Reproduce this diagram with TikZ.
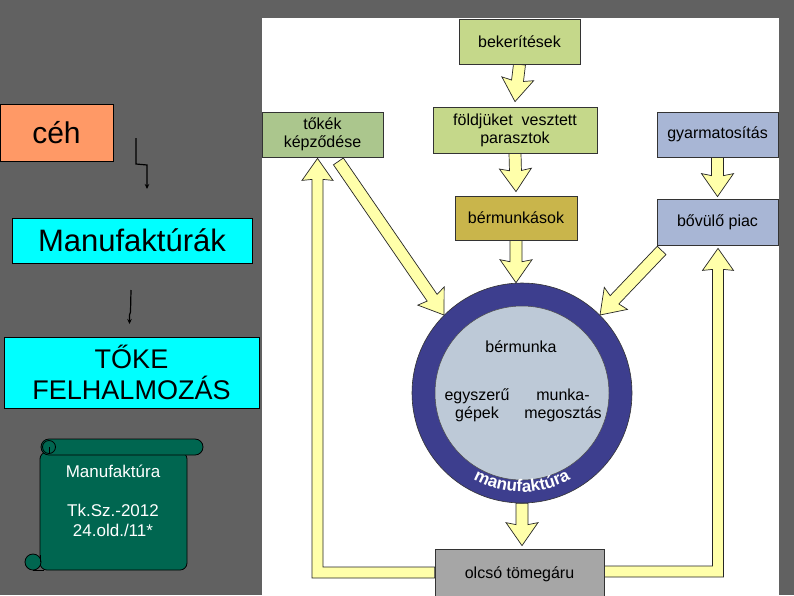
\documentclass[tikz,border=0pt]{standalone}
\usepackage{fontspec}
\setmainfont{Liberation Sans}
\usetikzlibrary{calc,decorations.text,arrows.meta}
\definecolor{bgc}{HTML}{616161}
\definecolor{cehc}{HTML}{FF9966}
\definecolor{cyanc}{HTML}{00FFFF}
\definecolor{scrollc}{HTML}{006650}
\definecolor{lgreen}{HTML}{C5D88A}
\definecolor{mgreen}{HTML}{ABC68D}
\definecolor{olivec}{HTML}{C9B54B}
\definecolor{lblue}{HTML}{A8B6D5}
\definecolor{gboxc}{HTML}{A6A6A6}
\definecolor{ringc}{HTML}{3D3E8E}
\definecolor{innerc}{HTML}{BDC9D7}
\definecolor{arrowy}{HTML}{FFFFAA}
\pgfdeclarelayer{bglayer}
\pgfdeclarelayer{arrlayer}
\pgfsetlayers{bglayer,arrlayer,main}
\newcommand\fatarrow[2]{%
  \coordinate (fa-s) at (#1);
  \coordinate (fa-e) at (#2);
  \coordinate (fa-h) at ($(fa-e)!21pt!(fa-s)$);
  \coordinate (fa-b) at ($(fa-e)!23pt!(fa-s)$);
  \draw[fatarr] ($(fa-s)!6pt!90:(fa-e)$) -- ($(fa-h)!6pt!90:(fa-e)$) -- ($(fa-b)!16pt!90:(fa-e)$) -- (fa-e) -- ($(fa-b)!16pt!-90:(fa-e)$) -- ($(fa-h)!6pt!-90:(fa-e)$) -- ($(fa-s)!6pt!-90:(fa-e)$) -- cycle;
}
\begin{document}
\begin{tikzpicture}[x=1pt,y=-1pt,
  lbox/.style={draw=black, line width=0.8pt, inner sep=0pt, align=center},
  dbox/.style={draw=black!80, line width=0.8pt, inner sep=0pt, align=center, font=\fontsize{16}{18}\selectfont},
  fatarr/.style={draw=black!85, line width=0.7pt, fill=arrowy, line join=miter},
  thinarr/.style={draw=black, line width=1.2pt, -{Stealth[length=5pt,width=4.5pt]}},
  scrollst/.style={draw=black, line width=0.8pt, fill=scrollc},
  intext/.style={font=\fontsize{16}{18}\selectfont, align=center, inner sep=0pt}]
\useasboundingbox (0,0) rectangle (794,595);
\begin{pgfonlayer}{bglayer}
\fill[bgc] (0,0) rectangle (794,595);
\fill[white] (262,18) rectangle (779,595);
\end{pgfonlayer}

% left side
\node[lbox, fill=cehc, minimum width=113pt, minimum height=57pt, font=\fontsize{30}{36}\selectfont] (ceh) at (56.5,132.5) {céh};
\node[lbox, fill=cyanc, minimum width=240pt, minimum height=45pt, font=\fontsize{31}{36}\selectfont] (manuf) at (132,240.5) {Manufaktúrák};
\node[lbox, fill=cyanc, minimum width=255pt, minimum height=71pt, font=\fontsize{27}{31}\selectfont] (toke) at (131.5,372.5) {TŐKE\\FELHALMOZÁS};

\coordinate (z1s) at (136,138);
\coordinate (z1e) at (147,189);
\draw[thinarr] (z1s) -- (136,164) -- (147,165) -- (z1e);
\coordinate (z2s) at (131,290);
\coordinate (z2e) at (129.5,324);
\draw[thinarr] (z2s) -- (130.5,312) -- (129.5,315) -- (z2e);

% scroll
\draw[scrollst, rounded corners=7pt] (40,452) -- (40,570) -- (187,570) -- (187,452) -- cycle;
\draw[scrollst] (33,562) circle (8);
\draw[black, line width=0.8pt] (33,570) -- (44,570);
\draw[black, line width=0.6pt] (40,555) -- (40,562);
\draw[scrollst, rounded corners=8pt] (41,439) rectangle (203,455);
\draw[scrollst] (49,447) circle (6.5);
\draw[black, line width=0.6pt] (49,447) -- (49,453);
\node[text=white, font=\fontsize{17}{19.5}\selectfont, align=center, inner sep=0pt] (scrolltxt) at (113,501) {Manufaktúra\\ \\Tk.Sz.-2012\\24.old./11*};

% right panel boxes
\node[dbox, fill=lgreen, minimum width=121pt, minimum height=45pt] (bek) at (519.5,41.5) {bekerítések};
\node[dbox, fill=lgreen, minimum width=164pt, minimum height=46pt] (fold) at (515,130) {földjüket\ \ vesztett\\parasztok};
\node[dbox, fill=olivec, minimum width=122pt, minimum height=44pt] (berm) at (516,218) {bérmunkások};
\node[dbox, fill=mgreen, minimum width=121pt, minimum height=45pt] (tokek) at (322.5,134.5) {tőkék\\képződése};
\node[dbox, fill=lblue, minimum width=121pt, minimum height=45pt] (gyar) at (717.5,134.5) {gyarmatosítás};
\node[dbox, fill=lblue, minimum width=121pt, minimum height=46pt] (bovulo) at (717.5,222) {bővülő piac};
\node[dbox, fill=gboxc, minimum width=169pt, minimum height=50pt] (olcso) at (519.5,574) {olcsó tömegáru};

% ring
\node[circle, draw=black!80, line width=0.6pt, fill=ringc, minimum size=220pt, inner sep=0pt] (ring) at (522,393) {};
\node[circle, draw=black!70, line width=0.5pt, fill=innerc, minimum size=174pt, inner sep=0pt] (inner) at (ring.center) {};
\node[intext] (bm) at (521,347) {bérmunka};
\node[intext] (egy) at (477,405) {egyszerű\\gépek};
\node[intext] (mm) at (563,405) {munka-\\megosztás};
\begin{scope}[shift={(ring.center)}, x=1pt, y=1pt]
\path[decorate, decoration={text along path, text align=center,
  text={|\color{white}\bfseries\fontsize{17}{17}\selectfont|manufaktúra}}]
  (200:99) arc[start angle=200, end angle=340, radius=99];
\end{scope}

% fat arrows
\begin{pgfonlayer}{arrlayer}
\fatarrow{bek.south}{$(fold.north)+(0,-5)$}
\fatarrow{fold.south}{$(berm.north)+(0,-4)$}
\fatarrow{berm.south}{berm.south |- ring.north}
\fatarrow{gyar.south}{$(bovulo.north)+(0,-2)$}
\fatarrow{$(tokek.south east)+(-45,4)$}{ring.135}
\fatarrow{$(bovulo.south west)+(5,5)$}{ring.45}
\fatarrow{ring.south}{$(ring.south |- olcso.north)+(0,-3)$}
% left elbow
\coordinate (lt) at ($(tokek.south)+(-5,1)$);
\coordinate (lc) at ($(lt |- olcso.west)+(0,-1.5)$);
\coordinate (le) at ($(olcso.west)+(0,-1.5)$);
\draw[fatarr] ($(le)+(0,-5.5)$) -- ($(lc)+(5.5,-5.5)$) -- ($(lt)+(5.5,21)$) -- ($(lt)+(15.5,22)$) -- (lt) -- ($(lt)+(-15.5,22)$) -- ($(lt)+(-5.5,21)$) -- ($(lc)+(-5.5,5.5)$) -- ($(le)+(0,5.5)$) -- cycle;
% right elbow
\coordinate (rt) at ($(bovulo.south)+(0.5,3)$);
\coordinate (rc) at ($(rt |- olcso.east)+(0,-2.5)$);
\coordinate (re) at ($(olcso.east)+(0,-2.5)$);
\draw[fatarr] ($(re)+(0,-5.5)$) -- ($(rc)+(-5.5,-5.5)$) -- ($(rt)+(-5.5,21)$) -- ($(rt)+(-15.5,22)$) -- (rt) -- ($(rt)+(15.5,22)$) -- ($(rt)+(5.5,21)$) -- ($(rc)+(5.5,5.5)$) -- ($(re)+(0,5.5)$) -- cycle;
\end{pgfonlayer}
\end{tikzpicture}
\end{document}
